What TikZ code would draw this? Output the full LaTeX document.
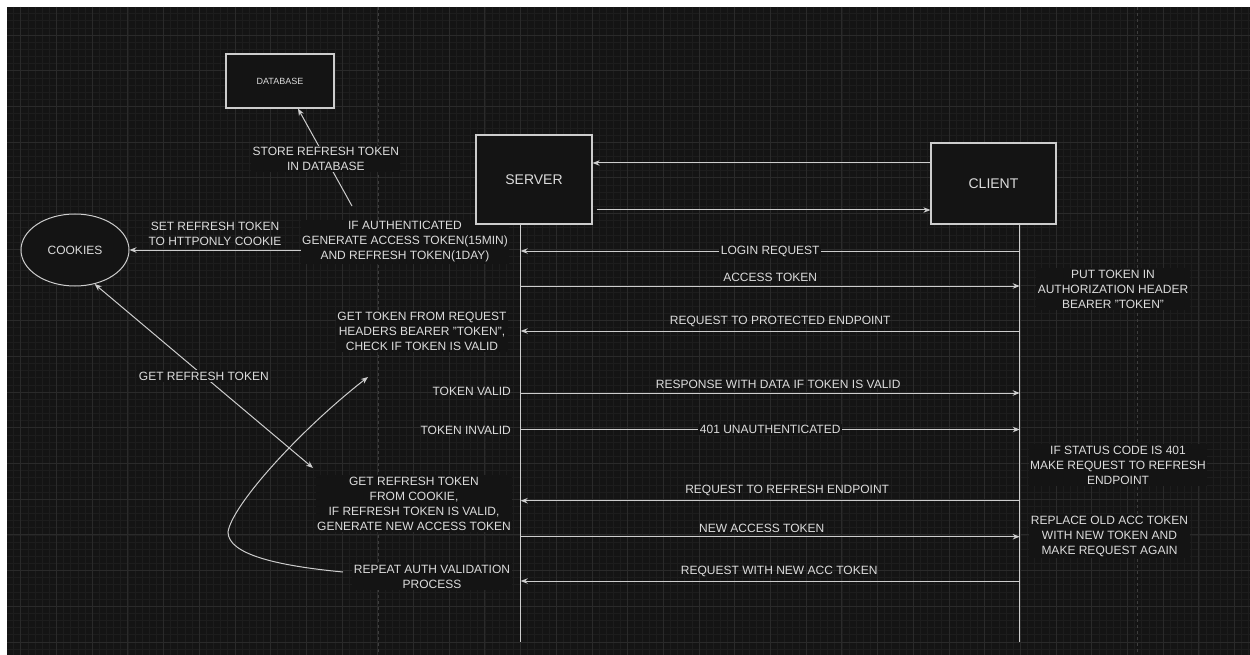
\documentclass[tikz,border=0pt]{standalone}
\usepackage{fontspec}
\setmainfont{Liberation Sans}
\usepackage{xcolor}
\usetikzlibrary{positioning,arrows.meta,shapes.geometric,calc}

\definecolor{bgdark}{RGB}{20,20,20}
\definecolor{gridminor}{RGB}{29,29,29}
\definecolor{gridmajor}{RGB}{42,42,42}
\definecolor{pagebreak}{RGB}{62,62,62}
\definecolor{ink}{RGB}{220,220,220}
\definecolor{edge}{RGB}{205,205,205}

\begin{document}
\begin{tikzpicture}[x=1pt, y=-1pt,
  font=\fontsize{12}{15}\selectfont,
  every node/.style={text=ink},
  actor/.style={draw=edge, fill=bgdark, line width=1.2pt, minimum width=116pt,
                minimum height=89pt, font=\fontsize{14}{17}\selectfont},
  msg/.style={draw=edge, line width=1pt, -{Stealth[length=7pt,width=5.5pt]}},
  dmsg/.style={msg, {Stealth[length=7pt,width=5.5pt]}-{Stealth[length=7pt,width=5.5pt]}},
  note/.style={fill=bgdark, align=center, inner sep=1.5pt},
  onlabel/.style={fill=bgdark, inner sep=1.5pt},
  toplabel/.style={above, inner sep=4pt}]

% ===== Canvas and grid =====
\fill[white] (0,0) rectangle (1250,655);
\fill[bgdark] (7,7) rectangle (1250,655);
\useasboundingbox (0,0) rectangle (1250,655);
\foreach \gx in {13.56,20.70,...,1250} \draw[gridminor, line width=0.6pt] (\gx,7) -- (\gx,655);
\foreach \gy in {13.58,20.72,...,655} \draw[gridminor, line width=0.6pt] (7,\gy) -- (1250,\gy);
\foreach \gx in {20.7,56.4,...,1250} \draw[gridmajor, line width=0.7pt] (\gx,7) -- (\gx,655);
\foreach \gy in {35,70.7,...,655} \draw[gridmajor, line width=0.7pt] (7,\gy) -- (1250,\gy);
% page breaks
\draw[pagebreak, line width=0.7pt, dash pattern=on 3pt off 3pt] (378,7) -- (378,655);
\draw[pagebreak, line width=0.7pt, dash pattern=on 3pt off 3pt] (1137,7) -- (1137,655);

% ===== Server side notes =====
\node[note] (authnote) at (405,242)
  {IF AUTHENTICATED\\GENERATE ACCESS TOKEN(15MIN)\\AND REFRESH TOKEN(1DAY)};
\node[note] (getnote) at (422,331)
  {GET TOKEN FROM REQUEST\\HEADERS BEARER "TOKEN",\\CHECK IF TOKEN IS VALID};
\node[anchor=east, inner sep=1.5pt] (tokvalid) at (512.5,391) {TOKEN VALID};
\node[anchor=east, inner sep=1.5pt] (tokinvalid) at (512.5,430) {TOKEN INVALID};
\node[note] (refreshnote) at (414,503.5)
  {GET REFRESH TOKEN\\FROM COOKIE,\\IF REFRESH TOKEN IS VALID,\\GENERATE NEW ACCESS TOKEN};
\node[note] (repeatnote) at (432,576.5) {REPEAT AUTH VALIDATION\\PROCESS};

% ===== Client side notes =====
\node[note] (putnote) at (1113,289)
  {PUT TOKEN IN\\AUTHORIZATION HEADER\\BEARER "TOKEN"};
\node[note] (statusnote) at (1118,465)
  {IF STATUS CODE IS 401\\MAKE REQUEST TO REFRESH\\ENDPOINT};
\node[note] (replacenote) at (1109.5,536)
  {REPLACE OLD ACC TOKEN\\WITH NEW TOKEN AND\\MAKE REQUEST AGAIN};

% ===== Participants =====
\node[actor, minimum width=108pt, minimum height=54pt,
      font=\fontsize{9}{11}\selectfont] (database) at (280,81) {DATABASE};
\node[actor] (server) at (534,179.5) {SERVER};
\node[actor, minimum width=125pt, minimum height=81pt] (client) at (993.5,183.5) {CLIENT};
\node[ellipse, draw=edge, fill=bgdark, line width=1pt, minimum width=108pt,
      minimum height=72pt, inner sep=0pt] (cookies) at (75,250) {COOKIES};

% Lifelines
\coordinate (sEnd) at (520.7,642);
\coordinate (cEnd) at (1019.7,642);
\draw[edge, line width=1pt] (server.south -| sEnd) -- (sEnd);
\draw[edge, line width=1pt] (client.south -| cEnd) -- (cEnd);

% Box to box
\draw[msg] (client.west |- 0,163) -- (server.east |- 0,163);
\draw[msg] ([xshift=4pt]server.east |- 0,210) -- (client.west |- 0,210);

% ===== Messages =====
\foreach \m/\y in {login/251, access/286, protected/331, valid/393,
                   invalid/429.5, refresh/500.7, newtok/536.7, retry/581} {
  \coordinate (s-\m) at (520.7,\y);
  \coordinate (c-\m) at (1019.7,\y);
}
\draw[msg] (c-login) -- node[onlabel]{LOGIN REQUEST} (s-login);
\draw[msg] (s-access) -- node[toplabel]{ACCESS TOKEN} (c-access);
\draw[msg] (c-protected) -- node[toplabel, pos=0.48]{REQUEST TO PROTECTED ENDPOINT} (s-protected);
\draw[msg] (s-valid) -- node[toplabel, pos=0.516]{RESPONSE WITH DATA IF TOKEN IS VALID} (c-valid);
\draw[msg] (s-invalid) -- node[onlabel]{401 UNAUTHENTICATED} (c-invalid);
\draw[msg] (c-refresh) -- node[toplabel, pos=0.466]{REQUEST TO REFRESH ENDPOINT} (s-refresh);
\draw[msg] (s-newtok) -- node[toplabel, pos=0.483]{NEW ACCESS TOKEN} (c-newtok);
\draw[msg] (c-retry) -- node[toplabel, pos=0.482]{REQUEST WITH NEW ACC TOKEN} (s-retry);

% ===== Storage =====
\coordinate (storefrom) at (352,206);
\draw[msg] (storefrom) -- node[note, pos=0.485]{STORE REFRESH TOKEN\\IN DATABASE}
           ([xshift=18pt]database.south);
\draw[msg] (authnote.west |- cookies.east) --
           node[toplabel, align=center]{SET REFRESH TOKEN\\TO HTTPONLY COOKIE} (cookies.east);

% Cookie read
\coordinate (cookieread) at (313,468);
\draw[dmsg] (cookies.-60) -- node[onlabel]{GET REFRESH TOKEN} (cookieread);

% Loop back to validation
\coordinate (loopstart) at (343,572);
\coordinate (loopend) at (368,377);
\draw[msg] (loopstart) .. controls (280,566) and (228,555) .. (228,532)
                       .. controls (232,505) and (300,430) .. (loopend);

\end{tikzpicture}
\end{document}
